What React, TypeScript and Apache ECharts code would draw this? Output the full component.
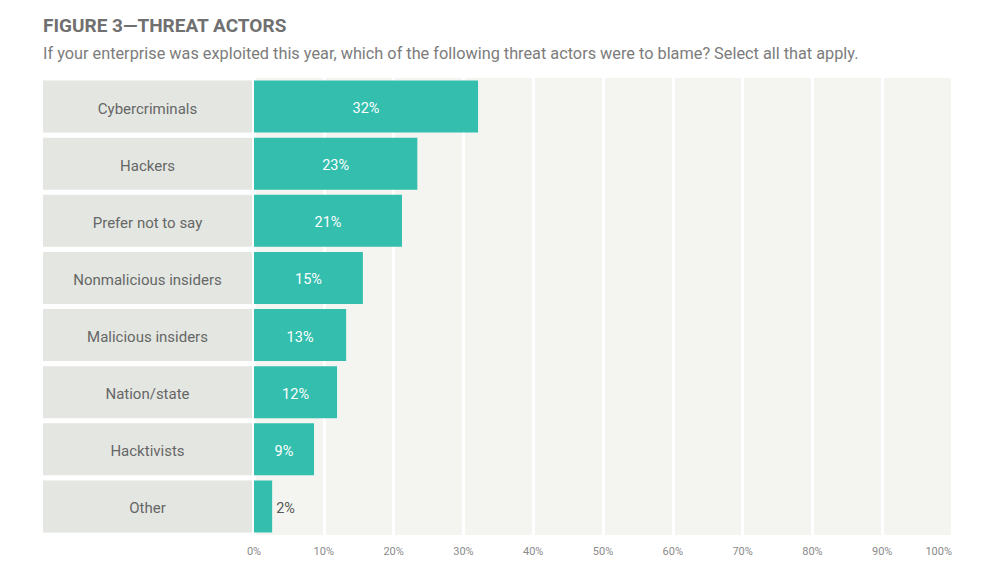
import { useEffect, useRef } from "react";
import * as echarts from "echarts";

const categories = [
  "Cybercriminals",
  "Hackers",
  "Prefer not to say",
  "Nonmalicious insiders",
  "Malicious insiders",
  "Nation/state",
  "Hacktivists",
  "Other",
];
const barValues = [32.1, 23.4, 21.2, 15.6, 13.2, 11.9, 8.6, 2.6];
const valueLabels = ["32%", "23%", "21%", "15%", "13%", "12%", "9%", "2%"];
const titleText = "FIGURE 3—THREAT ACTORS";
const subtitleText =
  "If your enterprise was exploited this year, which of the following threat actors were to blame? Select all that apply.";

const FONT = "Roboto, 'Noto Sans', sans-serif";
const TEAL = "#33bead";

export default function App() {
  const reference = useRef<HTMLDivElement>(null);
  useEffect(() => {
    const element = reference.current;
    if (element === null) return;
    const chart = echarts.init(element, undefined, { renderer: "svg" });
    const gridTop = 78;
    const gridBottom = 51;
    chart.setOption({
      animation: false,
      backgroundColor: "#ffffff",
      textStyle: { fontFamily: FONT },
      title: [
        {
          text: titleText,
          left: 38,
          top: 11,
          textStyle: {
            fontFamily: FONT,
            fontSize: 19,
            fontWeight: "bold",
            color: "#707070",
          },
        },
        {
          text: subtitleText,
          left: 38,
          top: 40,
          textStyle: {
            fontFamily: FONT,
            fontSize: 16.3,
            fontWeight: "normal",
            color: "#7c7c7c",
          },
        },
      ],
      grid: [
        {
          left: 254,
          right: 48,
          top: gridTop,
          bottom: gridBottom,
          show: true,
          backgroundColor: "#f4f5f0",
          borderWidth: 0,
        },
        {
          left: 43,
          width: 209,
          top: gridTop,
          bottom: gridBottom,
        },
      ],
      xAxis: [
        {
          type: "value",
          gridIndex: 0,
          min: 0,
          max: 100,
          interval: 10,
          axisLine: { show: false },
          axisTick: { show: false },
          splitLine: { lineStyle: { color: "#ffffff", width: 3 } },
          axisLabel: {
            color: "#8a8a8a",
            fontSize: 11,
            margin: 11,
            alignMaxLabel: "right",
            formatter: "{value}%",
          },
        },
        {
          type: "value",
          gridIndex: 1,
          min: 0,
          max: 1,
          show: false,
        },
      ],
      yAxis: [
        {
          type: "category",
          gridIndex: 0,
          data: categories,
          inverse: true,
          axisLine: { show: false },
          axisTick: { show: false },
          axisLabel: { show: false },
        },
        {
          type: "category",
          gridIndex: 1,
          data: categories,
          inverse: true,
          show: false,
        },
      ],
      series: [
        {
          type: "bar",
          xAxisIndex: 1,
          yAxisIndex: 1,
          barWidth: 52,
          silent: true,
          itemStyle: { color: "#e4e6e2" },
          label: {
            show: true,
            position: "inside",
            offset: [0, 2],
            color: "#666666",
            fontSize: 15,
            fontFamily: FONT,
            formatter: (p: { dataIndex: number }) => categories[p.dataIndex],
          },
          data: categories.map(() => 1),
        },
        {
          type: "bar",
          xAxisIndex: 0,
          yAxisIndex: 0,
          barWidth: 52,
          itemStyle: { color: TEAL },
          data: barValues.map((v) => ({
            value: v,
            label:
              v < 5
                ? {
                    show: true,
                    position: "right",
                    distance: 4,
                    color: "#555555",
                  }
                : {
                    show: true,
                    position: "inside",
                    color: "#ffffff",
                  },
          })),
          label: {
            show: true,
            offset: [0, 2],
            fontSize: 14.5,
            fontFamily: FONT,
            formatter: (p: { dataIndex: number }) => valueLabels[p.dataIndex],
          },
        },
      ],
    });
    return () => chart.dispose();
  }, []);
  return (
    <div
      ref={reference}
      style={{ position: "absolute", left: 0, top: 0, width: 1000, height: 586 }}
    />
  );
}
